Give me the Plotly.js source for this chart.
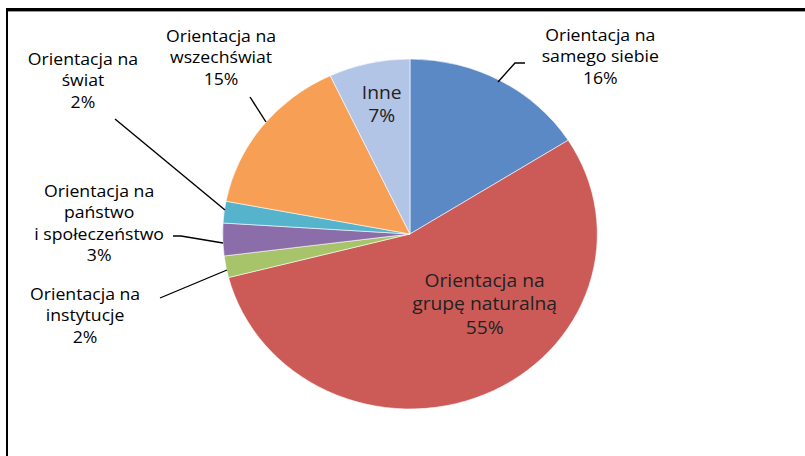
<!DOCTYPE html>
<html>
<head>
<meta charset="utf-8">
<script src="https://cdn.plot.ly/plotly-3.0.1.min.js"></script>
<style>
  html, body { margin: 0; padding: 0; background: #fff; overflow: hidden; width: 805px; height: 456px; }
  #wrap { position: absolute; left: 0; top: 0; width: 752px; height: 456px; transform: scaleX(1.0704787); transform-origin: 0 0; }
  #topline { position: absolute; left: 6px; top: 8px; width: 799px; height: 3px; background: #000; }
  #topline2 { position: absolute; left: 8px; top: 11px; width: 797px; height: 1px; background: #999; }
  #leftline { position: absolute; left: 6px; top: 8px; width: 2px; height: 448px; background: #000; }
</style>
</head>
<body>
<div id="wrap"><div id="chart" style="width:752px;height:456px;"></div></div>
<div id="topline"></div><div id="topline2"></div><div id="leftline"></div>
<script>
// ---- data ----
const categories = [
  "Orientacja na samego siebie",
  "Orientacja na grupę naturalną",
  "Orientacja na instytucje",
  "Orientacja na państwo i społeczeństwo",
  "Orientacja na świat",
  "Orientacja na wszechświat",
  "Inne"
];
const labelLines = [
  ["Orientacja na", "samego siebie"],
  ["Orientacja na", "grupę naturalną"],
  ["Orientacja na", "instytucje"],
  ["Orientacja na", "państwo", "i społeczeństwo"],
  ["Orientacja na", "świat"],
  ["Orientacja na", "wszechświat"],
  ["Inne"]
];
const shares = [16, 55, 2, 3, 2, 15, 7];
const colors = ["#5A89C5", "#CC5B58", "#A7C46A", "#8B6DA9", "#56B3CC", "#F79F54", "#B3C5E6"];

// ---- label placement (screen pixels) ----
const labelPos = [
  {x: 600, y: 56, inside: false, path: "M 498 82 L 515 63 L 525 63"},
  {x: 484, y: 303, inside: true},
  {x: 85, y: 315, inside: false, path: "M 160 298 L 227 270"},
  {x: 99, y: 222, inside: false, path: "M 173 236 L 181 236 L 223 243"},
  {x: 83, y: 80, inside: false, path: "M 115 119 L 225 210"},
  {x: 221, y: 57, inside: false, path: "M 250 97 L 266 122"},
  {x: 382, y: 103, inside: true}
];

const annotations = categories.map((c, i) => {
  const p = labelPos[i];
  return {
    xref: "x", yref: "y", x: p.x, y: p.y,
    text: labelLines[i].concat([shares[i] + "%"]).join("<br>"),
    showarrow: false, xanchor: "center", yanchor: "middle", align: "center",
    font: {family: "Open Sans, sans-serif", size: p.inside ? 18 : 16.5, color: p.inside ? "#222" : "#000"}
  };
});
const shapes = labelPos.filter(p => p.path).map(p => ({
  type: "path", xref: "x", yref: "y", path: p.path,
  line: {color: "#000", width: 1.3}
}));

const trace = {
  type: "pie",
  labels: categories,
  values: shares,
  sort: false,
  direction: "clockwise",
  rotation: 0,
  textinfo: "none",
  hoverinfo: "none",
  marker: {colors: colors, line: {color: "rgba(255,255,255,0.7)", width: 0.8}},
  domain: {x: [0.2766, 0.7420], y: [0.1031, 0.8706]},
  showlegend: false
};

const layout = {
  width: 752, height: 456,
  margin: {l: 0, r: 0, t: 0, b: 0},
  paper_bgcolor: "#fff", plot_bgcolor: "rgba(0,0,0,0)",
  xaxis: {range: [0, 805], visible: false, fixedrange: true},
  yaxis: {range: [456, 0], visible: false, fixedrange: true},
  annotations: annotations,
  shapes: shapes,
  showlegend: false
};

Plotly.newPlot("chart", [trace], layout, {staticPlot: true});
</script>
</body>
</html>
